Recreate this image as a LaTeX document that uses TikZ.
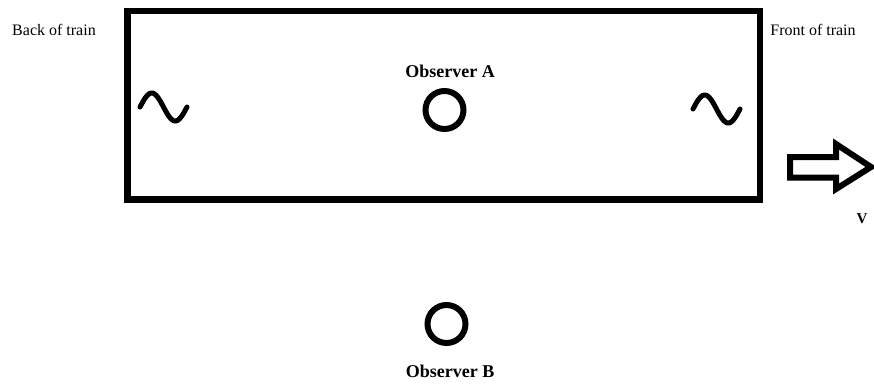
\documentclass[tikz,border=0pt]{standalone}
\usepackage{fontspec}
\setmainfont{Liberation Serif}
\begin{document}
\begin{tikzpicture}[x=1pt, y=-1pt,
    label/.style={font=\fontsize{16}{19}\selectfont, inner sep=0pt},
    observer/.style={font=\bfseries\fontsize{18}{21}\selectfont, inner sep=0pt},
    person/.style={circle, draw, line width=6pt, minimum size=38pt, inner sep=0pt}]
  \useasboundingbox (0,0) rectangle (874,384);
  % train
  \draw[line width=6.5pt] (127.5,11) rectangle (760,199.5);
  \node[label] (back) at (54,30) {Back of train};
  \node[label] (front) at (813,30) {Front of train};
  % waves
  \foreach \wx/\wy in {140/107, 693/109}
    \draw[line width=5pt, line cap=round]
      plot[domain=0:360, samples=60] ({\wx+\x/360*47}, {\wy-14*sin(\x)});
  % observers
  \node[observer] (labA) at (450,71.5) {Observer A};
  \node[person] (obsA) at (444.5,110) {};
  \node[person] (obsB) at (446.5,324) {};
  \node[observer] (labB) at (450,371.5) {Observer B};
  % velocity
  \draw[line width=6pt] (790,157) -- (836,157) -- (836,144) -- (871,167)
    -- (836,189) -- (836,177.5) -- (790,177.5) -- cycle;
  \node[font=\bfseries\fontsize{15}{17}\selectfont, inner sep=0pt] (vel) at (862,219) {V};
\end{tikzpicture}
\end{document}
